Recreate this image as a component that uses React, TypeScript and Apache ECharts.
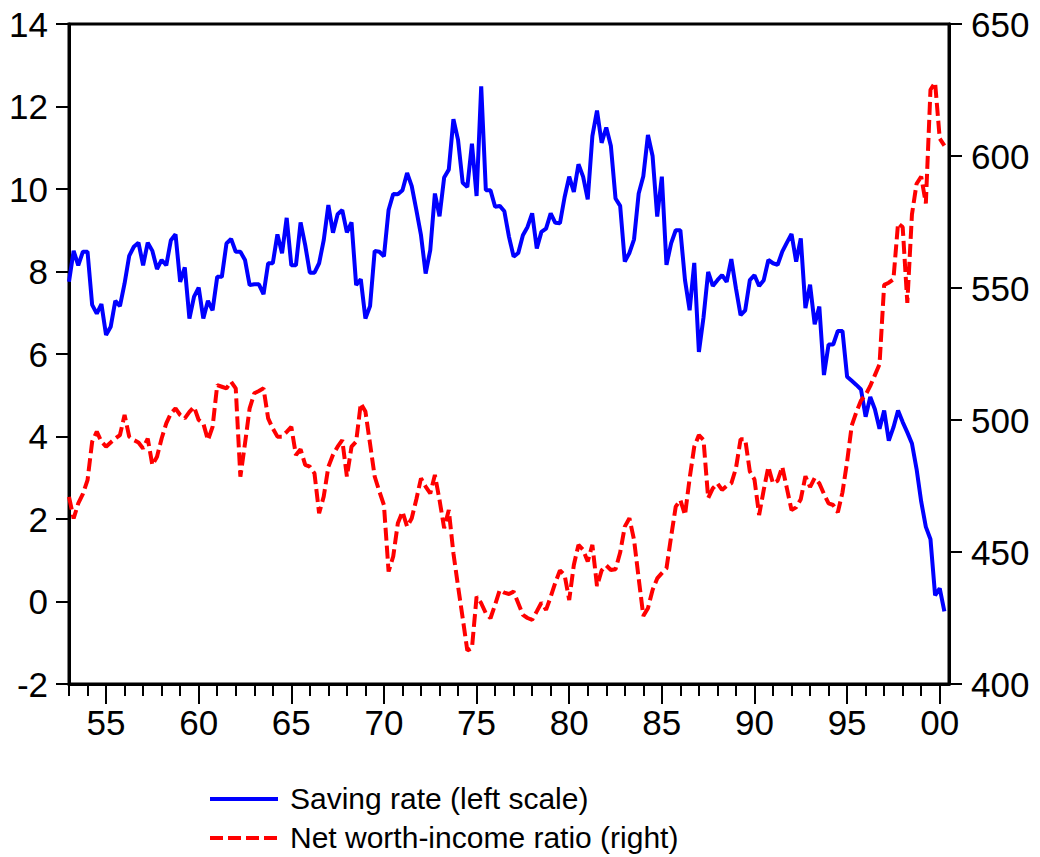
import React, { useEffect, useRef } from "react";
import * as echarts from "echarts";

const START_YEAR = 1953;

// Personal saving rate, quarterly 1953Q1-2000Q2 (left scale, %)
const savingRate: number[] = [
  7.75, 8.5, 8.15, 8.48, 8.48, 7.19, 6.98, 7.21, 6.46, 6.66,
  7.29, 7.16, 7.71, 8.38, 8.6, 8.7, 8.15, 8.7, 8.5, 8.06,
  8.28, 8.15, 8.76, 8.9, 7.75, 8.1, 6.86, 7.39, 7.61, 6.86,
  7.29, 7.06, 7.87, 7.87, 8.68, 8.79, 8.48, 8.48, 8.28, 7.67,
  7.69, 7.69, 7.45, 8.2, 8.2, 8.9, 8.44, 9.3, 8.15, 8.15,
  9.19, 8.64, 7.97, 7.97, 8.2, 8.76, 9.61, 8.94, 9.39, 9.49,
  8.95, 9.19, 7.67, 7.81, 6.86, 7.16, 8.5, 8.48, 8.37, 9.49,
  9.88, 9.87, 9.97, 10.39, 10.07, 9.49, 8.88, 7.95, 8.52, 9.89,
  9.34, 10.28, 10.47, 11.69, 11.19, 10.15, 10.05, 11.1, 9.83, 12.49,
  9.97, 9.97, 9.57, 9.59, 9.46, 8.84, 8.36, 8.45, 8.88, 9.08,
  9.41, 8.56, 8.96, 9.04, 9.41, 9.18, 9.17, 9.8, 10.3, 9.93,
  10.6, 10.3, 9.75, 11.28, 11.9, 11.12, 11.49, 11.04, 9.77, 9.59,
  8.24, 8.45, 8.78, 9.89, 10.31, 11.31, 10.8, 9.33, 10.3, 8.16,
  8.68, 9.0, 9.0, 7.79, 7.06, 8.21, 6.05, 6.89, 7.99, 7.65,
  7.79, 7.91, 7.75, 8.3, 7.59, 6.94, 7.06, 7.79, 7.91, 7.65,
  7.79, 8.28, 8.2, 8.16, 8.48, 8.7, 8.91, 8.24, 8.8, 7.11,
  7.68, 6.72, 7.15, 5.49, 6.23, 6.23, 6.56, 6.56, 5.45, 5.35,
  5.25, 5.14, 4.48, 4.96, 4.66, 4.19, 4.63, 3.9, 4.22, 4.63,
  4.35, 4.1, 3.83, 3.21, 2.42, 1.81, 1.51, 0.15, 0.32, -0.24,
];

// Net worth-income ratio, quarterly 1953Q1-2000Q2 (right scale, %)
const netWorthRatio: number[] = [
  470.9, 462.7, 468.4, 472.0, 477.2, 491.8, 495.6, 491.8, 489.9, 491.5,
  493.0, 494.3, 501.9, 493.7, 492.4, 491.5, 489.2, 493.0, 482.9, 486.1,
  493.0, 498.7, 502.5, 504.4, 501.9, 500.6, 503.1, 505.0, 500.0, 498.7,
  492.4, 497.4, 513.2, 512.6, 512.0, 514.5, 512.0, 478.5, 491.1, 504.4,
  510.1, 511.0, 512.0, 500.6, 496.8, 493.7, 493.7, 495.5, 497.4, 486.7,
  488.9, 483.0, 482.3, 479.8, 464.7, 471.0, 482.3, 486.8, 489.9, 492.4,
  478.6, 489.9, 491.8, 506.3, 503.2, 491.0, 478.6, 473.0, 467.8, 442.6,
  448.3, 460.9, 465.3, 459.6, 462.8, 470.0, 477.9, 474.8, 472.2, 479.2,
  469.7, 459.0, 465.9, 449.5, 437.0, 425.0, 412.7, 413.5, 433.1, 430.6,
  426.8, 424.9, 430.0, 435.6, 434.6, 434.1, 435.0, 430.6, 426.2, 425.0,
  424.3, 427.5, 430.8, 428.1, 433.0, 438.4, 443.0, 441.3, 431.8, 445.1,
  452.7, 450.8, 446.4, 452.7, 437.1, 443.0, 444.9, 443.2, 443.5, 449.8,
  459.6, 462.8, 454.6, 440.0, 425.8, 428.7, 435.6, 440.0, 442.0, 443.8,
  455.8, 467.2, 469.7, 464.0, 477.9, 489.9, 494.3, 492.4, 470.4, 474.1,
  476.0, 473.5, 475.0, 476.0, 481.7, 492.7, 492.7, 480.5, 477.5, 464.0,
  473.5, 482.3, 476.0, 477.0, 482.3, 474.1, 465.9, 466.9, 470.0, 478.7,
  474.6, 478.0, 476.0, 472.0, 468.4, 467.8, 465.0, 472.6, 484.2, 497.9,
  503.0, 507.4, 509.5, 512.9, 517.0, 521.1, 551.2, 552.0, 553.3, 574.5,
  573.1, 544.4, 577.9, 589.5, 592.2, 582.0, 625.1, 627.8, 606.6, 603.9,
];

const yearTicks: number[] = [];
for (let y = 1953; y <= 2000; y++) yearTicks.push(y);
const labelYears: number[] = [1955, 1960, 1965, 1970, 1975, 1980, 1985, 1990, 1995, 2000];

const leftTicks = { min: -2, max: 14, interval: 2 };
const rightTicks = { min: 400, max: 650, interval: 50 };

const seriesNames = ["Saving rate (left scale)", "Net worth-income ratio (right)"];
const BLUE = "#0000ff";
const RED = "#ff0000";
const RED_DASH = [13, 5];

const FONT = "'Liberation Sans', Arial, Helvetica, sans-serif";

export default function App() {
  const ref = useRef<HTMLDivElement>(null);

  useEffect(() => {
    if (!ref.current) return;
    const chart = echarts.init(ref.current, undefined, { renderer: "svg" });
    const toPairs = (arr: number[]) => arr.map((v, i) => [START_YEAR + i / 4, v]);
    const black = "#000";
    const tickLabel = { fontSize: 35, color: black, fontFamily: FONT };
    const option: any = {
      animation: false,
      backgroundColor: "#fff",
      textStyle: { fontFamily: FONT },
      grid: {
        left: 69,
        right: 91,
        top: 24,
        bottom: 173,
        show: true,
        borderColor: black,
        borderWidth: 3,
        containLabel: false,
      },
      graphic: [
        {
          type: "line",
          shape: { x1: 210, y1: 799, x2: 278, y2: 799 },
          style: { stroke: BLUE, lineWidth: 4 },
        },
        {
          type: "text",
          x: 290,
          y: 798,
          style: {
            text: seriesNames[0],
            fontSize: 30,
            fontFamily: FONT,
            fill: black,
            verticalAlign: "middle",
          },
        },
        {
          type: "line",
          shape: { x1: 210, y1: 838, x2: 278, y2: 838 },
          style: { stroke: RED, lineWidth: 4, lineDash: RED_DASH },
        },
        {
          type: "text",
          x: 290,
          y: 837,
          style: {
            text: seriesNames[1],
            fontSize: 30,
            fontFamily: FONT,
            fill: black,
            verticalAlign: "middle",
          },
        },
      ],
      xAxis: [
        {
          type: "value",
          min: 1953,
          max: 2000.5,
          position: "bottom",
          axisLine: { show: true, onZero: false, lineStyle: { color: black, width: 3 } },
          axisTick: {
            show: true,
            inside: false,
            length: 12,
            customValues: yearTicks,
            lineStyle: { color: black, width: 2 },
          },
          axisLabel: { show: false },
          splitLine: { show: false },
        },
        {
          type: "value",
          min: 1953,
          max: 2000.5,
          position: "bottom",
          offset: 0,
          axisLine: { show: false, onZero: false },
          axisTick: {
            show: true,
            inside: false,
            length: 20,
            customValues: labelYears,
            lineStyle: { color: black, width: 2 },
          },
          axisLabel: {
            show: true,
            customValues: labelYears,
            margin: 21,
            ...tickLabel,
            formatter: (v: number) => {
              const y = Math.round(v) % 100;
              return y < 10 ? "0" + y : String(y);
            },
          },
          splitLine: { show: false },
        },
      ],
      yAxis: [
        {
          type: "value",
          position: "left",
          min: leftTicks.min,
          max: leftTicks.max,
          interval: leftTicks.interval,
          axisLine: { show: true, onZero: false, lineStyle: { color: black, width: 3 } },
          axisTick: { show: true, inside: false, length: 13, lineStyle: { color: black, width: 2 } },
          axisLabel: { ...tickLabel, margin: 21 },
          splitLine: { show: false },
        },
        {
          type: "value",
          position: "right",
          min: rightTicks.min,
          max: rightTicks.max,
          interval: rightTicks.interval,
          axisLine: { show: true, onZero: false, lineStyle: { color: black, width: 3 } },
          axisTick: { show: true, inside: false, length: 13, lineStyle: { color: black, width: 2 } },
          axisLabel: { ...tickLabel, margin: 22 },
          splitLine: { show: false },
        },
      ],
      series: [
        {
          name: seriesNames[0],
          type: "line",
          xAxisIndex: 0,
          yAxisIndex: 0,
          data: toPairs(savingRate),
          symbol: "none",
          showSymbol: false,
          lineStyle: { color: BLUE, width: 4, type: "solid" },
          itemStyle: { color: BLUE },
        },
        {
          name: seriesNames[1],
          type: "line",
          xAxisIndex: 0,
          yAxisIndex: 1,
          data: toPairs(netWorthRatio),
          symbol: "none",
          showSymbol: false,
          lineStyle: { color: RED, width: 4, type: RED_DASH },
          itemStyle: { color: RED },
        },
      ],
    };
    chart.setOption(option);
    return () => chart.dispose();
  }, []);

  return (
    <div
      ref={ref}
      style={{ position: "fixed", left: 0, top: 0, width: 1040, height: 857, background: "#fff" }}
    />
  );
}
